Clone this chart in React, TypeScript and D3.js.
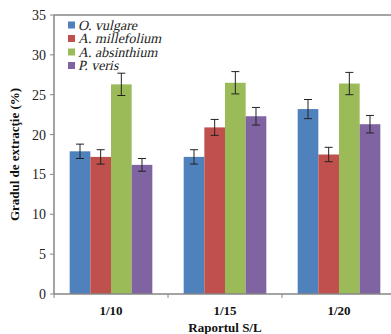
import React from "react";
import * as d3 from "d3";

const categories = ["1/10", "1/15", "1/20"];
const seriesNames = ["O. vulgare", "A. millefolium", "A. absinthium", "P. veris"];
const seriesColors = ["#4F81BD", "#C0504D", "#9BBB59", "#8064A2"];
const values = [
  [17.9, 17.2, 23.2],
  [17.2, 20.9, 17.5],
  [26.3, 26.5, 26.4],
  [16.2, 22.3, 21.3],
];
const errors = [
  [0.9, 0.9, 1.2],
  [0.9, 1.0, 0.9],
  [1.4, 1.4, 1.4],
  [0.8, 1.1, 1.1],
];
const yTicks = [0, 5, 10, 15, 20, 25, 30, 35];

const W = 391;
const H = 334;
const L = 54;
const R = 396;
const T = 15;
const B = 294;
const font = "Liberation Serif";
const axisColor = "#868686";

export default function App() {
  const x = d3.scaleBand<string>().domain(categories).range([L, R]).padding(0);
  const step = x.bandwidth();
  const xs = d3
    .scaleBand<string>()
    .domain(seriesNames)
    .range([step * 0.1375, step * 0.8625])
    .padding(0);
  const y = d3.scaleLinear().domain([0, 35]).range([B, T]);
  const bw = xs.bandwidth();
  const ts = { fontFamily: font };

  return (
    <svg
      width={W}
      height={H}
      style={{ position: "absolute", left: 0, top: 0, background: "#fff", fontFamily: font }}
    >
      <line x1={L} x2={R} y1={T} y2={T} stroke={axisColor} strokeWidth={1.5} />
      {seriesNames.map((s, si) =>
        categories.map((c, ci) => {
          const v = values[si][ci];
          const bx = (x(c) as number) + (xs(s) as number);
          return (
            <rect
              key={s + c}
              x={bx}
              y={y(v)}
              width={bw}
              height={B - y(v)}
              fill={seriesColors[si]}
            />
          );
        })
      )}
      {seriesNames.map((s, si) =>
        categories.map((c, ci) => {
          const v = values[si][ci];
          const e = errors[si][ci];
          const cx = (x(c) as number) + (xs(s) as number) + bw / 2;
          return (
            <g key={"e" + s + c} stroke="#222" strokeWidth={1}>
              <line x1={cx} x2={cx} y1={y(v + e)} y2={y(v - e)} />
              <line x1={cx - 4} x2={cx + 4} y1={y(v + e)} y2={y(v + e)} />
              <line x1={cx - 4} x2={cx + 4} y1={y(v - e)} y2={y(v - e)} />
            </g>
          );
        })
      )}
      <line x1={L} x2={L} y1={T} y2={B} stroke={axisColor} strokeWidth={1.5} />
      {yTicks.map((t) => (
        <g key={t}>
          <line x1={L - 4} x2={L} y1={y(t)} y2={y(t)} stroke={axisColor} strokeWidth={1} />
          <text
            x={L - 8}
            y={y(t) + 5}
            textAnchor="end"
            fontSize={14}
            fill="#222"
            style={ts}
          >
            {t}
          </text>
        </g>
      ))}
      <line x1={L} x2={R} y1={B} y2={B} stroke={axisColor} strokeWidth={1.5} />
      {categories.map((c) => (
        <line
          key={"t" + c}
          x1={x(c) as number}
          x2={x(c) as number}
          y1={B}
          y2={B + 4}
          stroke={axisColor}
          strokeWidth={1}
        />
      ))}
      {categories.map((c) => (
        <text
          key={"l" + c}
          x={(x(c) as number) + step / 2}
          y={315}
          textAnchor="middle"
          fontSize={13}
          fontWeight="bold"
          fill="#111"
          style={ts}
        >
          {c}
        </text>
      ))}
      <text x={(L + R) / 2} y={332} textAnchor="middle" fontSize={13} fontWeight="bold" fill="#111" style={ts}>
        Raportul S/L
      </text>
      <text
        transform={`translate(19, ${(T + B) / 2}) rotate(-90)`}
        textAnchor="middle"
        fontSize={13}
        fontWeight="bold"
        fill="#111"
        style={ts}
      >
        Gradul de extracţie (%)
      </text>
      {seriesNames.map((s, i) => (
        <g key={"lg" + s} transform={`translate(68, ${25 + i * 13.5})`}>
          <rect x={0} y={-3.5} width={7} height={7} fill={seriesColors[i]} />
          <g transform="translate(10, 4.8)">
            <text x={0} y={0} transform="skewX(-13)" fontSize={14} fill="#222" style={ts}>
              {s}
            </text>
          </g>
        </g>
      ))}
    </svg>
  );
}
